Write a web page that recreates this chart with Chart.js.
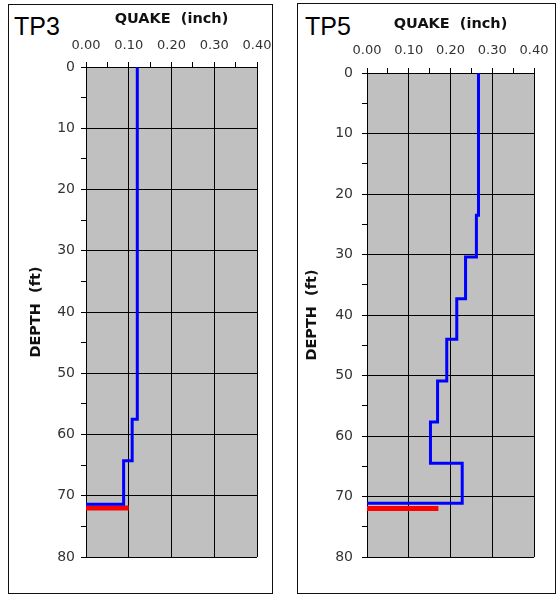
<!DOCTYPE html>
<html><head><meta charset="utf-8">
<script src="https://cdn.jsdelivr.net/npm/chart.js@4"></script>
<style>
html,body{margin:0;padding:0;background:#fff;}
body{width:558px;height:596px;position:relative;overflow:hidden;}
.frame{position:absolute;border:1.5px solid #111;box-sizing:border-box;}
.tp{position:absolute;font:25px "Liberation Sans",Arial,sans-serif;line-height:25px;color:#000;}
.cv{position:absolute;top:0;}
</style></head><body>
<div class="frame" style="left:8px;top:4px;width:265px;height:590px"></div>
<div class="frame" style="left:297px;top:3px;width:259px;height:591px"></div>
<div class="tp" style="left:14px;top:14px">TP3</div>
<div class="tp" style="left:305px;top:14px">TP5</div>
<div class="cv" style="left:0"><canvas id="c1" width="280" height="596"></canvas></div>
<div class="cv" style="left:280px"><canvas id="c2" width="278" height="596"></canvas></div>
<script>
// ---- data ----
const quakeMajorTicks = [0, 0.1, 0.2, 0.3, 0.4];
const depthMajorTicks = [0, 10, 20, 30, 40, 50, 60, 70, 80];

const tp3LayerTop = [0, 57.5, 64.3];
const tp3Quake    = [0.120, 0.108, 0.088];
const tp3Bottom   = 71.4;
const tp3TipDepth = 72.0;
const tp3TipQuake = 0.100;

const tp5LayerTop = [0, 23.5, 30.4, 37.3, 44.0, 50.9, 57.7, 64.5];
const tp5Quake    = [0.267, 0.262, 0.236, 0.215, 0.191, 0.169, 0.152, 0.228];
const tp5Bottom   = 71.1;
const tp5TipDepth = 72.0;
const tp5TipQuake = 0.171;

// ---- helpers ----
function profile(tops, q, bottom) {
  const pts = [];
  for (let i = 0; i < tops.length; i++) {
    const end = i < tops.length - 1 ? tops[i + 1] : bottom;
    pts.push({x: q[i], y: tops[i]}, {x: q[i], y: end});
  }
  pts.push({x: 0, y: bottom});
  return pts;
}
const near = (arr, v) => arr.some(a => Math.abs(a - v) < 1e-6);

const bgPlugin = {
  id: 'plotbg',
  beforeDraw(chart) {
    const {ctx, chartArea: a} = chart;
    ctx.save();
    ctx.fillStyle = '#c0c0c0';
    ctx.fillRect(a.left, a.top, a.right - a.left, a.bottom - a.top);
    ctx.restore();
  }
};

function makeChart(id, cfg) {
  return new Chart(document.getElementById(id), {
    type: 'scatter',
    data: {
      datasets: [
        {data: profile(cfg.tops, cfg.quake, cfg.bottom), showLine: true, borderColor: '#0000ff',
         borderWidth: 3, pointRadius: 0, fill: false, clip: false, borderJoinStyle: 'miter'},
        {data: [{x: 0, y: cfg.tipDepth}, {x: cfg.tipQuake, y: cfg.tipDepth}], showLine: true,
         borderColor: '#ff0000', borderWidth: 5, pointRadius: 0, fill: false, clip: false}
      ]
    },
    options: {
      responsive: false,
      animation: false,
      devicePixelRatio: 1,
      layout: {padding: cfg.pad},
      plugins: {legend: {display: false}, tooltip: {enabled: false}},
      scales: {
        x: {
          type: 'linear', position: 'top', min: 0, max: 0.4,
          ticks: {stepSize: 0.05, autoSkip: false, maxRotation: 0, minRotation: 0,
                  padding: cfg.xTickPad, color: '#333',
                  font: {family: 'DejaVu Sans', size: cfg.xFont},
                  callback: v => near(quakeMajorTicks, v) ? Number(v).toFixed(2) : ''},
          grid: {color: c => near(quakeMajorTicks, c.tick.value) ? '#000' : 'rgba(0,0,0,0)',
                 tickColor: '#000', tickLength: 5, lineWidth: 1},
          border: {display: true, color: '#000', width: 1},
          title: {display: true, text: 'QUAKE  (inch)', color: '#111',
                  padding: {top: cfg.xTitlePad, bottom: 0},
                  font: {family: 'DejaVu Sans', weight: 'bold', size: 14.5}},
          afterFit: s => { s.height = cfg.xH; }
        },
        y: {
          type: 'linear', reverse: true, min: 0, max: 80,
          ticks: {stepSize: 5, autoSkip: false, padding: cfg.yTickPad, color: '#333',
                  font: {family: 'DejaVu Sans', size: 14},
                  callback: v => near(depthMajorTicks, v) ? String(v) : ''},
          grid: {color: c => near(depthMajorTicks, c.tick.value) ? '#000' : 'rgba(0,0,0,0)',
                 tickColor: '#000', tickLength: 5, lineWidth: 1},
          border: {display: true, color: '#000', width: 1},
          title: {display: true, text: 'DEPTH  (ft)', color: '#111',
                  padding: {top: cfg.yTitlePad, bottom: 0},
                  font: {family: 'DejaVu Sans', weight: 'bold', size: 14.5}},
          afterFit: s => { s.width = cfg.yW; }
        }
      }
    },
    plugins: [bgPlugin]
  });
}

makeChart('c1', {
  tops: tp3LayerTop, quake: tp3Quake, bottom: tp3Bottom, tipDepth: tp3TipDepth, tipQuake: tp3TipQuake,
  pad: {left: 20, top: 4, right: 23, bottom: 39},
  xH: 63, yW: 66, xTickPad: 8.5, yTickPad: 6, xTitlePad: 7, yTitlePad: 8, xFont: 13
});
makeChart('c2', {
  tops: tp5LayerTop, quake: tp5Quake, bottom: tp5Bottom, tipDepth: tp5TipDepth, tipQuake: tp5TipQuake,
  pad: {left: 16, top: 8, right: 18, bottom: 39},
  xH: 65, yW: 71, xTickPad: 9.5, yTickPad: 9, xTitlePad: 8, yTitlePad: 8, xFont: 13
});
</script>
</body></html>
